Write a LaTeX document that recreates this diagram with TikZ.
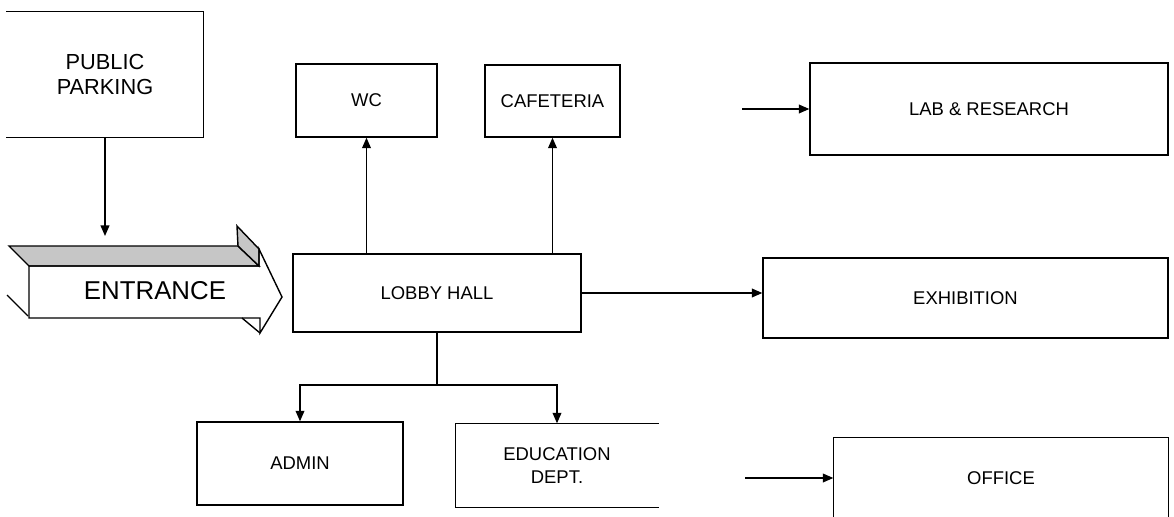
\documentclass[tikz,border=0pt]{standalone}
\usepackage{fontspec}
\setmainfont{Liberation Sans}
\usetikzlibrary{arrows.meta}
\newcommand{\roomfont}{\fontsize{10.5}{12.6}\selectfont}

\begin{document}
\begin{tikzpicture}[x=0.02cm, y=-0.02cm, line width=0.8pt,
    room/.style 2 args={draw, minimum width=#1, minimum height=#2, inner sep=0pt, align=center, font=\roomfont},
    arr/.style={-{Triangle[length=6pt,width=5pt]}},
    roof/.style={fill=gray!45}]
    \useasboundingbox (0,0) rectangle (1174,517);

    % rooms
    \node[room={3.92cm}{2.5cm}, draw=none, font=\fontsize{12.4}{14.6}\selectfont] (park) at (105,74.5) {PUBLIC\\PARKING};
    \draw (park.north west) -- (park.north east) -- (park.south east) -- (park.south west);
    \node[room={2.82cm}{1.46cm}] (wc) at (366.5,100.5) {WC};
    \node[room={2.70cm}{1.44cm}] (cafe) at (552.5,101) {CAFETERIA};
    \node[room={7.16cm}{1.84cm}] (lab) at (989,109) {LAB \& RESEARCH};
    \node[room={5.76cm}{1.56cm}] (lobby) at (437,293) {LOBBY HALL};
    \node[room={8.10cm}{1.60cm}] (exhib) at (965.5,298) {EXHIBITION};
    \node[room={4.12cm}{1.66cm}] (admin) at (300,463.5) {ADMIN};
    \node[room={4.04cm}{1.66cm}, draw=none] (edu) at (557,465.5) {EDUCATION\\DEPT.};
    \draw (edu.north east) -- (edu.north west) -- (edu.south west) -- (edu.south east);
    \node[room={6.68cm}{1.60cm}, draw=none] (office) at (1001,478) {OFFICE};
    \draw (office.south west) -- (office.north west) -- (office.north east) -- (office.south east);

    % entrance arrow
    \filldraw[roof] (9,246) -- (238,246) -- (259,266) -- (29,266) -- cycle;
    \filldraw[roof] (237,226) -- (259,249) -- (259,266) -- (238,246) -- cycle;
    \draw (29,266) -- (259,266) -- (259,249) -- (282,297) -- (260,333) -- (260,318) -- (29,318) -- cycle;
    \draw (242,318) -- (260,333);
    \draw (7,295) -- (28,316);
    \node[font=\fontsize{14.7}{17}\selectfont] (entrance) at (155,291) {ENTRANCE};

    % connectors
    \coordinate (entry) at (105,236);
    \coordinate (labin) at (742,109);
    \coordinate (officein) at (745,478);
    \coordinate (split) at (437,385);
    \draw[arr] (park.south) -- (entry);
    \draw[arr] (lobby.north -| wc) -- (wc.south);
    \draw[arr] (lobby.north -| cafe) -- (cafe.south);
    \draw[arr] (lobby.east) -- (lobby.east -| exhib.west);
    \draw[arr] (labin) -- (lab.west);
    \draw[arr] (officein) -- (office.west);
    \draw (lobby.south) -- (split);
    \draw[arr] (split) -| (admin.north);
    \draw[arr] (split) -| (edu.north);
\end{tikzpicture}
\end{document}
